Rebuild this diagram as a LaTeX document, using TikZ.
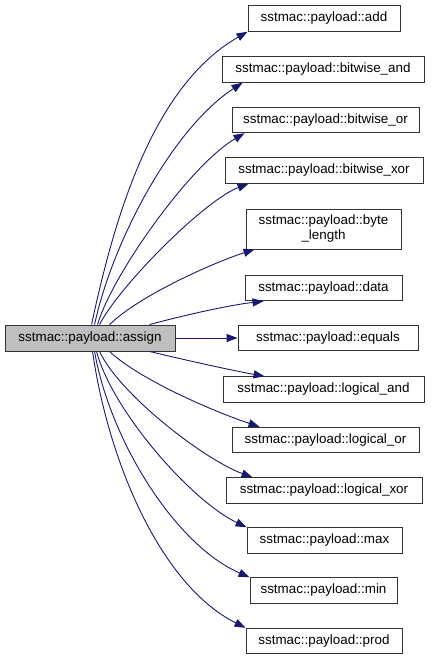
\documentclass[tikz,border=0pt]{standalone}
\usepackage{fontspec}
\setmainfont{Liberation Sans}
\usetikzlibrary{arrows.meta}
\definecolor{edgeblue}{HTML}{191970}
\definecolor{maingray}{HTML}{BFBFBF}
\begin{document}
\begin{tikzpicture}[x=1pt,y=-1pt,
  box/.style={draw=black!80, line width=0.9pt, fill=white, rectangle, inner sep=0pt,
    font=\fontsize{13.4}{15}\selectfont, align=center, minimum height=25.5},
  call/.style={draw=edgeblue, line width=0.9pt, -{Triangle[length=11pt,width=8pt]}}]
\useasboundingbox (0,0) rectangle (431,661);
\fill[white] (0,0) rectangle (431,661);

\node[box, fill=maingray, minimum width=170, minimum height=26] (main) at (90,338) {sstmac::payload::assign};

\node[box, minimum width=152] (add)  at (324,18.5)  {sstmac::payload::add};
\node[box, minimum width=202] (band) at (323,69.5)  {sstmac::payload::bitwise\_and};
\node[box, minimum width=187] (bor)  at (325.5,120) {sstmac::payload::bitwise\_or};
\node[box, minimum width=198] (bxor) at (324,170.5) {sstmac::payload::bitwise\_xor};
\node[box, minimum width=155, minimum height=40] (blen) at (323.5,229) {sstmac::payload::byte\\\_length};
\node[box, minimum width=157] (data) at (323.5,288) {sstmac::payload::data};
\node[box, minimum width=180] (eq)   at (328,338) {sstmac::payload::equals};
\node[box, minimum width=201] (land) at (323.5,389.5) {sstmac::payload::logical\_and};
\node[box, minimum width=187] (lor)  at (325.5,440) {sstmac::payload::logical\_or};
\node[box, minimum width=196] (lxor) at (324,490.5) {sstmac::payload::logical\_xor};
\node[box, minimum width=155] (max)  at (324.5,540.5) {sstmac::payload::max};
\node[box, minimum width=147] (min)  at (323.5,590.5) {sstmac::payload::min};
\node[box, minimum width=156] (prod) at (324,641) {sstmac::payload::prod};

% top edges
\draw[call] (main.north west) ++(87,0) .. controls (115,215) and (153,86) .. (add.south west);
\draw[call] (main.north west) ++(90,0) .. controls (113,240) and (173,128) .. ([xshift=21]band.south west);
\draw[call] (main.north west) ++(93,0) .. controls (112,275) and (190,165) .. ([xshift=13]bor.south west);
\draw[call] (main.north west) ++(95,0) .. controls (120,285) and (205,200) .. ([xshift=24]bxor.south west);
\draw[call] (main.north west) ++(105,0) .. controls (140,295) and (215,262) .. ([xshift=9]blen.south west);
\draw[call] (main.north west) ++(145,0) .. controls (185,315) and (230,305) .. ([xshift=19]data.south west);
% straight
\draw[call] (main.east) -- (eq.west);
% bottom edges
\draw[call] (main.south west) ++(145,0) .. controls (185,360) and (230,370) .. ([xshift=42]land.north west);
\draw[call] (main.south west) ++(105,0) .. controls (140,380) and (215,412) .. ([xshift=28]lor.north west);
\draw[call] (main.south west) ++(95,0) .. controls (120,395) and (205,460) .. ([xshift=27]lxor.north west);
\draw[call] (main.south west) ++(92,0) .. controls (112,410) and (190,500) .. (max.north west);
\draw[call] (main.south west) ++(90,0) .. controls (110,440) and (175,545) .. (min.north west);
\draw[call] (main.south west) ++(88,0) .. controls (108,460) and (160,585) .. (prod.north west);
\end{tikzpicture}
\end{document}
